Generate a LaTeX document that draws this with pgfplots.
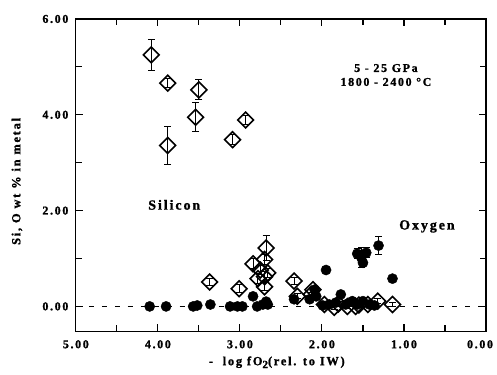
\documentclass[border=0pt]{standalone}
\usepackage{fontspec}
\setmainfont{Liberation Serif}[LetterSpace=14, BoldFeatures={FakeBold=1.3}]
\usepackage{pgfplots}
\pgfplotsset{compat=1.18}
\begin{document}
\begin{tikzpicture}
\begin{axis}[
  name=ax,
  scale only axis, width=411bp, height=313bp,
  x dir=reverse, xmin=0, xmax=5, ymin=-0.52, ymax=6,
  xtick={1,2,3,4,5}, xticklabels={1.00,2.00,3.00,4.00,5.00},
  extra x ticks={0}, extra x tick labels={0.00},
  extra x tick style={xticklabel style={xshift=-6bp}},
  minor xtick={0.5,1.5,2.5,3.5,4.5},
  ytick={0,2,4,6}, yticklabels={0.00,2.00,4.00,6.00},
  minor ytick={1,3,5},
  tick align=inside, major tick length=7bp, minor tick length=6bp,
  tick style={line width=1.1pt, black},
  axis line style={line width=1.3pt},
  ticklabel style={font=\fontsize{12}{14}\selectfont\bfseries},
  xticklabel style={anchor=center, yshift=-13bp},
  yticklabel style={anchor=east, xshift=-4bp},
  xlabel={-\ \ log fO\raisebox{-0.5ex}{\fontsize{11}{12}\selectfont 2}(rel. to IW)},
  ylabel={Si, O wt \% in metal},
  label style={font=\fontsize{12.5}{14}\selectfont\bfseries},
  xlabel style={at={(axis description cs:0.49,-0.099)}, anchor=center},
  ylabel style={at={(axis description cs:-0.1435,0.48)}, anchor=center, rotate=0},
  clip=false,
]
\addplot[black, dash pattern=on 5bp off 8bp, line width=0.6pt] coordinates {(5,0) (0,0)};
% Oxygen
\addplot[only marks, mark=*, mark size=5.1bp, black,
  error bars/.cd, y dir=both, y explicit,
  error bar style={line width=1pt}, error mark options={rotate=90, mark size=3.5bp, line width=1pt}]
  table[x=x, y=y, y error=e] {
x y e
4.10 0 0
3.90 0 0
3.57 0 0
3.52 0.02 0
3.36 0.04 0
3.12 0 0
3.03 0 0
2.97 0 0
2.84 0.21 0
2.79 0 0
2.72 0.04 0
2.66 0.04 0
2.68 0.10 0
2.34 0.15 0
2.15 0.15 0
2.09 0.35 0
2.07 0.21 0
1.99 0.02 0
1.91 0.04 0
1.83 0.08 0
1.77 0.25 0
1.71 0.04 0
1.63 0.11 0
1.57 0.04 0
1.50 0.11 0
1.42 0.04 0
1.36 0.02 0
1.95 0.76 0
1.57 1.10 0.10
1.52 1.02 0.20
1.50 0.91 0
1.46 1.12 0.10
1.31 1.27 0.19
1.14 0.58 0
};
% Silicon
\addplot[only marks, mark=square, mark size=5.6bp, black,
  mark options={rotate=45, fill=white, line width=1.6pt},
  error bars/.cd, y dir=both, y explicit,
  error bar style={line width=1pt}, error mark options={rotate=90, mark size=3.5bp, line width=1pt}]
  table[x=x, y=y, y error=e] {
x y e
4.08 5.25 0.33
3.88 4.66 0.10
3.50 4.52 0.21
3.54 3.95 0.30
3.88 3.36 0.40
3.09 3.48 0.10
2.93 3.89 0.10
3.37 0.51 0.08
3.01 0.37 0.08
2.84 0.89 0.10
2.68 1.22 0.26
2.70 0.98 0.10
2.75 0.76 0.10
2.70 0.62 0.10
2.66 0.70 0.10
2.78 0.58 0.10
2.70 0.41 0.08
2.34 0.53 0.08
2.30 0.21 0.05
2.11 0.35 0.05
2.13 0.25 0.05
1.97 0.04 0.05
1.85 -0.02 0.05
1.80 0.05 0.05
1.69 0.00 0.05
1.59 0.00 0.05
1.55 0.03 0.05
1.44 0.04 0.05
1.32 0.11 0.05
1.14 0.04 0.05
};
\node[font=\fontsize{12}{13}\selectfont\bfseries, align=center] at (axis cs:1.22,4.83) {5 - 25 GPa\\[1pt]1800 - 2400 °C};
\node[font=\fontsize{14}{16}\selectfont\bfseries] at (axis cs:3.8,2.12) {Silicon};
\node[font=\fontsize{14}{16}\selectfont\bfseries] at (axis cs:0.72,1.67) {Oxygen};
\end{axis}
\pgfresetboundingbox
\path[use as bounding box] ([shift={(-76bp,-43bp)}]ax.south west) rectangle ([shift={(11bp,19bp)}]ax.north east);
\end{tikzpicture}
\end{document}
